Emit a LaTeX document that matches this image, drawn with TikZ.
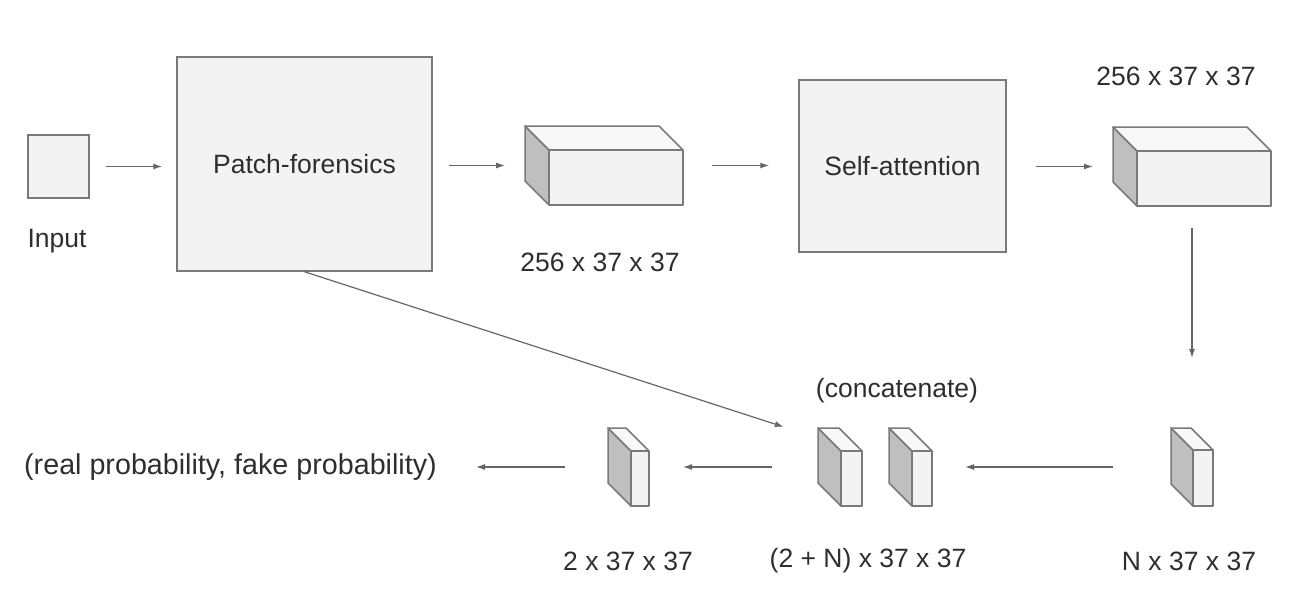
\documentclass[tikz,border=0pt]{standalone}
\usepackage{fontspec}
\setmainfont{Liberation Sans}
\usetikzlibrary{arrows.meta}

\definecolor{boxfill}{HTML}{F3F3F3}
\definecolor{boxline}{HTML}{7A7A7A}
\definecolor{sidefill}{HTML}{BFBFBF}
\definecolor{topfill}{HTML}{F8F8F8}
\definecolor{arrowgray}{HTML}{666666}
\definecolor{txtgray}{HTML}{2E2E2E}

\tikzset{
  block/.style={draw=boxline, fill=boxfill, line width=1.5pt, inner sep=0pt},
  cubebox/.style={inner sep=0pt, outer sep=0pt},
  face/.style={draw=boxline, line width=1.5pt, line join=round},
  flow/.style={-{Latex[length=9pt,width=6pt]}, draw=arrowgray, line width=1.2pt},
  dim/.style={text=txtgray, font=\fontsize{26.5}{30}\selectfont},
}

% cuboid: name, back top-left x, y, width, height, depth
\newcommand{\cuboid}[6]{%
  \draw (#2+#4/2+#6/2, #3+#5/2+#6/2) node[cubebox, minimum width=#4pt+#6pt, minimum height=#5pt+#6pt] (#1) {};
  \draw[face, fill=sidefill] (#2,#3) -- ++(#6,#6) -- ++(0,#5) -- ++(-#6,-#6) -- cycle;
  \draw[face, fill=topfill] (#2,#3) -- ++(#4,0) -- ++(#6,#6) -- ++(-#4,0) -- cycle;
  \draw[face, fill=boxfill] (#2+#6,#3+#6) rectangle ++(#4,#5);
}

\begin{document}
\begin{tikzpicture}[x=1pt, y=-1pt]
  \useasboundingbox (0,0) rectangle (1303,598);

  % top row
  \draw (58.5,166.5) node[block, minimum width=61pt, minimum height=63pt] (in) {};
  \draw (57,241) node[dim] (inlab) {Input};
  \draw (304.5,164) node[block, minimum width=255pt, minimum height=214pt, dim] (pf) {Patch-forensics};
  \cuboid{c1}{525}{126}{134}{55}{24}
  \draw (600,262) node[dim] (c1lab) {256 x 37 x 37};
  \draw (902.5,166) node[block, minimum width=207pt, minimum height=172pt, dim] (sa) {Self-attention};
  \cuboid{c2}{1113}{127}{134}{55}{24}
  \draw (1176,76) node[dim] (c2lab) {256 x 37 x 37};

  % bottom row
  \cuboid{n}{1171}{428}{20}{56}{22}
  \draw (1189,561) node[dim] (nlab) {N x 37 x 37};
  \cuboid{cat1}{818}{428}{21}{55}{23}
  \cuboid{cat2}{889}{428}{20}{55}{23}
  \draw (897,391) node[dim] (catnote) {(concatenate)};
  \draw (868,561) node[dim] (catlab) {(2 + N) x 37 x 37};
  \cuboid{two}{608}{428}{18}{55}{23}
  \draw (628,561) node[dim] (twolab) {2 x 37 x 37};
  \draw (437,467) node[dim, font=\fontsize{28.7}{32}\selectfont, anchor=east, inner sep=0pt] (out) {(real probability, fake probability)};

  % arrows
  \draw[flow, shorten <=16pt, shorten >=14pt] (in.east) -- (in.east -| pf.west);
  \draw[flow, shorten <=16pt, shorten >=20pt] (c1.west -| pf.east) -- (c1.west);
  \draw[flow, shorten <=29pt, shorten >=29pt] (c1.east) -- (c1.east -| sa.west);
  \draw[flow, shorten <=29pt, shorten >=20pt] (c2.west -| sa.east) -- (c2.west);
  \draw[flow, shorten <=22pt, shorten >=70pt] (c2.south) -- (n.north);
  \draw[flow, shorten <=58pt, shorten >=33pt] (n.west) -- (cat2.east);
  \draw[flow, shorten <=46pt, shorten >=34pt] (cat1.west) -- (two.east);
  \draw[flow, shorten <=43pt, shorten >=39pt] (two.west) -- (out.east);
  \draw[flow, shorten >=36pt] (pf.south) -- ([yshift=-10pt]cat1.north west);
\end{tikzpicture}
\end{document}
